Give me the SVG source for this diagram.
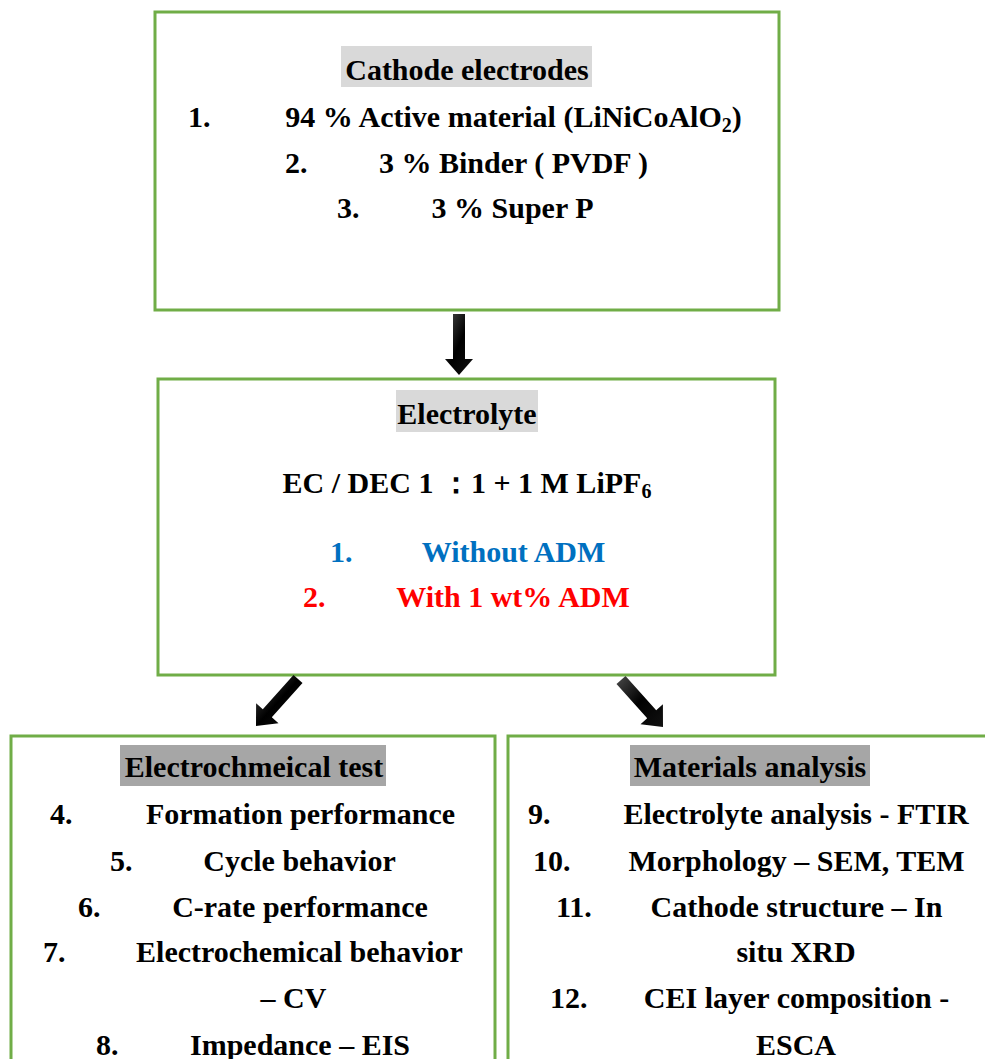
<svg xmlns="http://www.w3.org/2000/svg" width="985" height="1059" viewBox="0 0 985 1059">
  <style>
    .box { fill: #FFFFFF; stroke: #70AD47; stroke-width: 3; }
    .t { font-family: "Liberation Serif", "Times New Roman", serif; font-weight: bold; font-size: 30px; fill: #000000; }
    .c { text-anchor: middle; }
    .hl1 { fill: #D9D9D9; }
    .hl2 { fill: #A6A6A6; }
    .blue { fill: #0070C0; }
    .red { fill: #FF0000; }
    .arrow { fill: url(#ag); }
  </style>
  <defs>
    <linearGradient id="ag" x1="0" y1="0" x2="1" y2="1">
      <stop offset="0" stop-color="#4a4a4a"/>
      <stop offset="0.5" stop-color="#000000"/>
      <stop offset="1" stop-color="#111111"/>
    </linearGradient>
  </defs>
  <rect width="985" height="1059" fill="#FFFFFF"/>

  <g id="cathode">
    <rect class="box" x="155" y="12" width="624" height="298"/>
    <rect class="hl1" x="341" y="46" width="251" height="41"/>
    <text class="t c" x="467" y="80">Cathode electrodes</text>
    <text class="t" x="188" y="127">1.</text>
    <text class="t c" x="513.5" y="127">94 % Active material (LiNiCoAlO<tspan font-size="20" dy="5">2</tspan><tspan dy="-5">)</tspan></text>
    <text class="t" x="285" y="173">2.</text>
    <text class="t c" x="513.5" y="173">3 % Binder ( PVDF )</text>
    <text class="t" x="337" y="218">3.</text>
    <text class="t c" x="512.5" y="218">3 % Super P</text>
  </g>

  <g id="electrolyte">
    <rect class="box" x="158" y="379" width="617" height="296"/>
    <rect class="hl1" x="396" y="390" width="142" height="42"/>
    <text class="t c" x="467" y="424">Electrolyte</text>
    <text class="t c" x="467" y="493">EC / DEC 1 ：1 + 1 M LiPF<tspan font-size="20" dy="5">6</tspan></text>
    <text class="t blue" x="330" y="562">1.</text>
    <text class="t c blue" x="513.5" y="562">Without ADM</text>
    <text class="t red" x="303" y="607">2.</text>
    <text class="t c red" x="513" y="607">With 1 wt% ADM</text>
  </g>

  <g id="electrochemical-test">
    <rect class="box" x="11" y="736" width="484" height="400"/>
    <rect class="hl2" x="120" y="745" width="266" height="41"/>
    <text class="t c" x="254" y="777">Electrochmeical test</text>
    <text class="t" x="50" y="824">4.</text>
    <text class="t c" x="300.5" y="824">Formation performance</text>
    <text class="t" x="110" y="871">5.</text>
    <text class="t c" x="299.5" y="871">Cycle behavior</text>
    <text class="t" x="78" y="917">6.</text>
    <text class="t c" x="300" y="917">C-rate performance</text>
    <text class="t" x="43" y="962">7.</text>
    <text class="t c" x="299.5" y="962">Electrochemical behavior</text>
    <text class="t c" x="293.5" y="1008">– CV</text>
    <text class="t" x="96" y="1055">8.</text>
    <text class="t c" x="300" y="1055">Impedance – EIS</text>
  </g>

  <g id="materials-analysis">
    <rect class="box" x="508" y="736" width="500" height="400"/>
    <rect class="hl2" x="630" y="745" width="240" height="41"/>
    <text class="t c" x="750" y="777">Materials analysis</text>
    <text class="t" x="528" y="824">9.</text>
    <text class="t c" x="796" y="824">Electrolyte analysis - FTIR</text>
    <text class="t" x="533" y="871">10.</text>
    <text class="t c" x="796.5" y="871">Morphology – SEM, TEM</text>
    <text class="t" x="556" y="917">11.</text>
    <text class="t c" x="796.5" y="917">Cathode structure – In</text>
    <text class="t c" x="796" y="962">situ XRD</text>
    <text class="t" x="550" y="1008">12.</text>
    <text class="t c" x="796.5" y="1008">CEI layer composition -</text>
    <text class="t c" x="796" y="1055">ESCA</text>
  </g>

  <g id="connectors">
    <polygon class="arrow" points="453,314 465,314 465,359 473,359 459,375 445,359 453,359"/>
    <polygon class="arrow" points="293.5,675 302.5,683 271.8,717.3 278.5,723.3 256,726 256.1,703.3 262.8,709.3"/>
    <polygon class="arrow" points="625.5,676 656.2,710.3 662.9,704.3 663,727 640.5,724.3 647.2,718.3 616.5,684"/>
  </g>
</svg>
